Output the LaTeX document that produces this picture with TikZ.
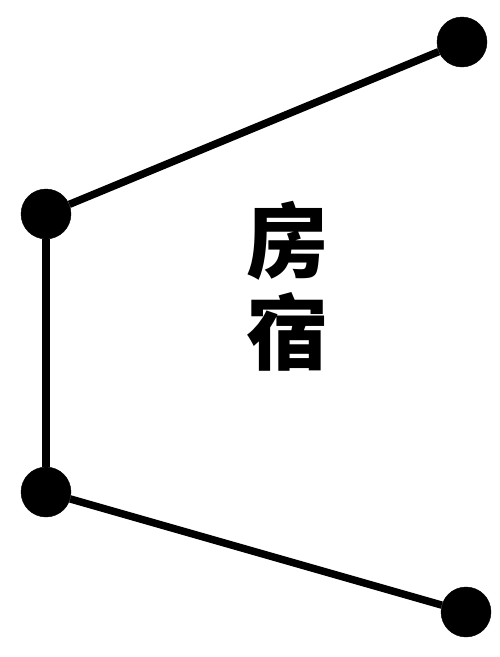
\documentclass[tikz,border=0pt]{standalone}
\usepackage{fontspec}
\usepackage{tikz}
\usetikzlibrary{positioning}
\newfontfamily\cjk{Noto Sans CJK SC Black}
\definecolor{ink}{HTML}{000000}

\begin{document}
\begin{tikzpicture}[
    x=1pt, y=-1pt,
    star/.style={circle, fill=ink, draw=ink, minimum size=50pt, inner sep=0pt},
    link/.style={line width=7.5pt, ink}
]
    \useasboundingbox (0,0) rectangle (499,657);

    % Stelle
    \node[star] (s1) at (462, 42) {};
    \node[star] (s2) at (46, 214) {};
    \node[star] (s3) at (46, 492) {};
    \node[star] (s4) at (466, 612) {};

    % Nome
    \node[font=\cjk\fontsize{82}{92}\selectfont, align=center, inner sep=0pt] (name) at (287, 286) {房\\宿};

    % Connessioni
    \draw[link] (s1) -- (s2);
    \draw[link] (s2) -- (s3);
    \draw[link] (s3) -- (s4);

\end{tikzpicture}
\end{document}
